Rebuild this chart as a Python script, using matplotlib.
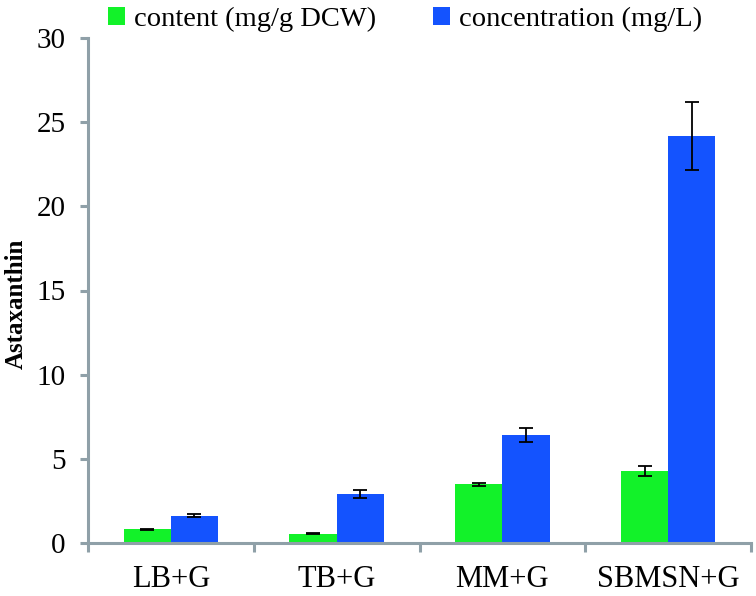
import numpy as np
import matplotlib
matplotlib.use("Agg")
import matplotlib.pyplot as plt

# data
media = ["LB+G", "TB+G", "MM+G", "SBMSN+G"]
content = [0.81, 0.55, 3.49, 4.28]
content_err = [0.05, 0.04, 0.10, 0.28]
concentration = [1.62, 2.93, 6.42, 24.18]
concentration_err = [0.10, 0.24, 0.42, 2.04]
yticks = [0, 5, 10, 15, 20, 25, 30]

plt.rcParams["font.family"] = ["Liberation Serif", "DejaVu Serif"]
axis_col = "#8fa0a8"

fig = plt.figure(figsize=(7.56, 5.96), dpi=100)
ax = fig.add_axes([88/756, 1-543/596, (751-88)/756, (543-38)/596])

x = np.arange(len(media))
w = 0.285
ax.bar(x - w/2, content, w, color="#12f229", label="content (mg/g DCW)",
       yerr=content_err, error_kw=dict(ecolor="black", elinewidth=1.3, capsize=5, capthick=1.3))
ax.bar(x + w/2, concentration, w, color="#1453fe", label="concentration (mg/L)",
       yerr=concentration_err, error_kw=dict(ecolor="black", elinewidth=1.3, capsize=5, capthick=1.3))

ax.set_xlim(-0.5, len(media) - 0.5)
ax.set_ylim(0, 30)
ax.set_yticks(yticks)
ax.tick_params(axis="y", direction="out", length=6, width=2.2, color=axis_col,
               labelsize=21, pad=10)

# ticks at category borders, labels at centers
ax.set_xticks(np.arange(-0.5, len(media), 1.0))
ax.set_xticklabels([])
ax.tick_params(axis="x", which="major", direction="out", length=6.5, width=2.2, color=axis_col)
ax.set_xticks(x, minor=True)
ax.set_xticklabels(media, minor=True)
ax.tick_params(axis="x", which="minor", length=0, labelsize=22, pad=16)

for s in ["top", "right"]:
    ax.spines[s].set_visible(False)
for s in ["left", "bottom"]:
    ax.spines[s].set_color(axis_col)
    ax.spines[s].set_linewidth(2.2)

ax.set_ylabel("Astaxanthin", fontsize=18, fontweight="bold")
ax.yaxis.set_label_coords(-0.091, 0.473)

fig.legend(loc="center", bbox_to_anchor=(405/756, 1-19/596), ncol=2, frameon=False,
           fontsize=20.5, handlelength=0.6, handleheight=0.6, handletextpad=0.3,
           columnspacing=2.0, borderaxespad=0)

fig.savefig("out.png", dpi=100)
